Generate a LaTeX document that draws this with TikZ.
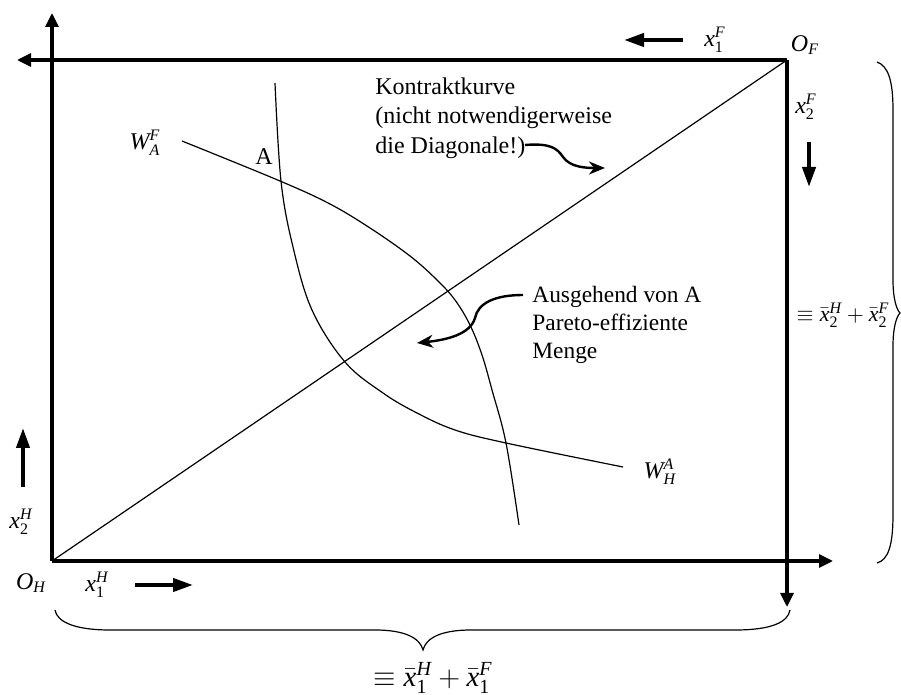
\documentclass[tikz,border=0pt]{standalone}
\usepackage{fontspec}
\setmainfont{Liberation Serif}
\newfontfamily\tnr[NFSSFamily=tnr]{Liberation Serif}
\DeclareMathAlphabet{\mathtit}{TU}{tnr}{m}{it}
\DeclareMathAlphabet{\mathtrm}{TU}{tnr}{m}{n}
\usetikzlibrary{arrows.meta}

% label macros (Times-like italic letters)
\newcommand{\xlab}[2]{$\mathtit{x}_{\mathtrm{#1}}^{\mathtit{#2}}$}
\newcommand{\olab}[1]{$\mathtit{O}_{\mathtit{#1}}$}
\newcommand{\wlab}[2]{$\mathtit{W}_{\mathtit{#1}}^{\mathtit{#2}}$}
\newcommand{\sumlab}[1]{$\equiv\bar{\mathtit{x}}_{\mathtrm{#1}}^{\mathtit{H}}+\bar{\mathtit{x}}_{\mathtrm{#1}}^{\mathtit{F}}$}

\begin{document}
\begin{tikzpicture}[
    x=0.5pt, y=-0.5pt,
    % --- Line styles ---
    axis/.style={line width=1.6pt, -{Triangle[length=7pt,width=6.5pt]}},
    dirarrow/.style={line width=2pt, -{Triangle[length=10pt,width=6.5pt]}},
    pointer/.style={line width=1.2pt, -{Stealth[length=8pt,width=6.5pt,inset=2.5pt]}},
    curve/.style={line width=0.6pt},
    brace/.style={line width=0.6pt},
    % --- Text styles ---
    lbl/.style={inner sep=0pt, font=\fontsize{12}{14}\selectfont},
    note/.style={inner sep=0pt, align=left, anchor=north west},
]
\useasboundingbox (0,0) rectangle (901,695);

% === Edgeworth box ===
\coordinate (OH) at (52,561);
\coordinate (OF) at (787,60);
\coordinate (Hytip) at (52,13);
\coordinate (Hxtip) at (833,561);
\coordinate (Fxtip) at (17,60);
\coordinate (Fytip) at (787,607);
\draw[axis] (OH) -- (Hytip);
\draw[axis] (OH) -- (Hxtip);
\draw[axis] (OF) -- (Fxtip);
\draw[axis] (OF) -- (Fytip);

% diagonal
\draw[curve] (OH) -- (OF);

% === Indifference curves through A ===
\draw[curve] plot[smooth, tension=0.6] coordinates {(182,141) (280,181) (330,204)
  (370,228) (410,256) (437,280) (455,300) (470,325) (482,355) (492,390)
  (506,443) (519,525)};
\draw[curve] plot[smooth, tension=0.6] coordinates {(275,83) (281,181) (293,247)
  (312,310) (345,362) (383,393) (417,413) (455,430) (506,443) (623,467)};

% === Origins and goods ===
\node[lbl] (OFl) at (805,45) {\olab{F}};
\node[lbl] (OHl) at (31,583) {\olab{H}};
\node[lbl] (xF1) at (715,40) {\xlab{1}{F}};
\node[lbl] (xF2) at (806,107) {\xlab{2}{F}};
\node[lbl] (xH1) at (97,585) {\xlab{1}{H}};
\node[lbl] (xH2) at (21,522) {\xlab{2}{H}};

% direction arrows
\coordinate (xF1s) at (683,40);  \coordinate (xF1e) at (624,40);
\coordinate (xF2s) at (809,142); \coordinate (xF2e) at (809,187);
\coordinate (xH1s) at (135,585); \coordinate (xH1e) at (193,585);
\coordinate (xH2s) at (23,487);  \coordinate (xH2e) at (23,428);
\draw[dirarrow] (xF1s) -- (xF1e);
\draw[dirarrow] (xF2s) -- (xF2e);
\draw[dirarrow] (xH1s) -- (xH1e);
\draw[dirarrow] (xH2s) -- (xH2e);

% === Curve labels ===
\node[lbl] (WAF) at (145,143) {\wlab{A}{F}};
\node[lbl] (WHA) at (660,472) {\wlab{H}{A}};
\node[lbl] (ptA) at (264,157) {A};

% === Annotations ===
\node[note, font=\fontsize{12}{14.75}\selectfont] (kontrakt) at (375,77)
  {Kontraktkurve\\(nicht notwendigerweise\\die Diagonale!)};
\node[note, font=\fontsize{11.7}{14}\selectfont] (pareto) at (532,286)
  {Ausgehend von A\\Pareto-effiziente\\Menge};

\coordinate (kstart) at (525,145);
\coordinate (kend) at (605,168);
\draw[pointer] (kstart) .. controls (550,143) and (557,148) .. (563,157)
  .. controls (570,167) and (585,168) .. (kend);
\coordinate (pstart) at (523,295);
\coordinate (pend) at (417,343);
\draw[pointer] (pstart) .. controls (495,295) and (478,303) .. (475,318)
  .. controls (470,335) and (445,340) .. (pend);

% === Endowment braces ===
\draw[brace] (55,610) .. controls (57,622) and (75,630) .. (110,630) -- (375,630)
  .. controls (405,630) and (420,638) .. (423,650)
  .. controls (426,638) and (441,630) .. (471,630) -- (735,630)
  .. controls (772,630) and (788,622) .. (790,610);
\draw[brace] (877,62) .. controls (888,66) and (893,80) .. (893,110) -- (893,280)
  .. controls (893,300) and (897,310) .. (900,313)
  .. controls (897,316) and (893,326) .. (893,346) -- (893,515)
  .. controls (893,546) and (888,560) .. (877,563);

\node[lbl, font=\fontsize{10.95}{13}\selectfont] (sum2) at (843,315) {\sumlab{2}};
\node[lbl, font=\fontsize{14.4}{17}\selectfont] (sum1) at (433,678) {\sumlab{1}};

\end{tikzpicture}
\end{document}
